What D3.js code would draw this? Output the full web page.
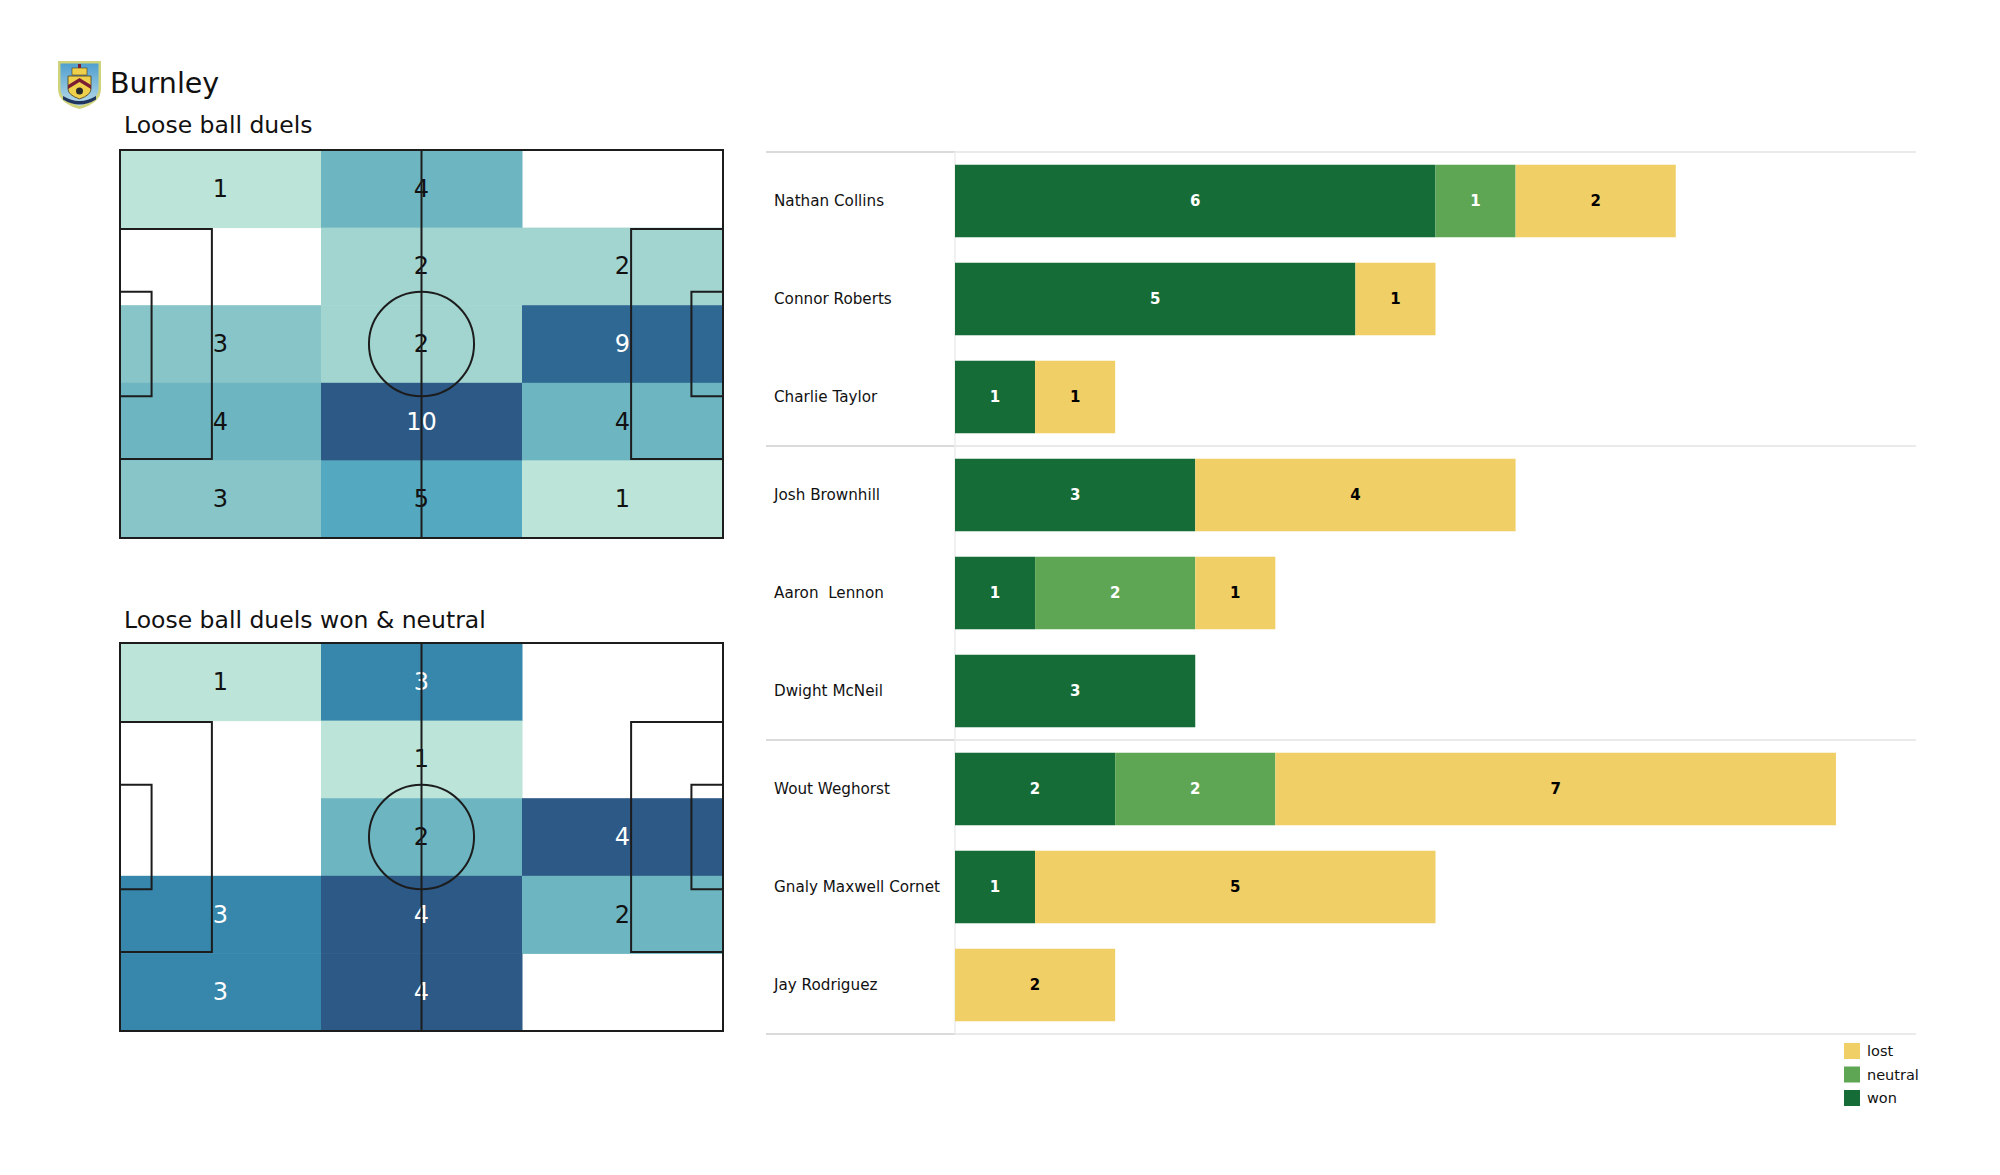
<!DOCTYPE html>
<html>
<head>
<meta charset="utf-8">
<script src="https://cdn.jsdelivr.net/npm/d3@7"></script>
<style>
  html, body { margin: 0; padding: 0; background: #ffffff; }
  svg { display: block; font-family: "DejaVu Sans", sans-serif; }
</style>
</head>
<body>
<svg id="chart" width="2000" height="1175"></svg>
<script>
// ---------------- DATA ----------------
const teamName = "Burnley";
const pitchTitles = ["Loose ball duels", "Loose ball duels won & neutral"];

// heatmap zones: 5 rows (top -> bottom) x 3 columns (left -> right); null = no duels
const duelsAll = [
  [1, 4, null],
  [null, 2, 2],
  [3, 2, 9],
  [4, 10, 4],
  [3, 5, 1]
];
const duelsWonNeutral = [
  [1, 3, null],
  [null, 1, null],
  [null, 2, 4],
  [3, 4, 2],
  [3, 4, null]
];

const players = ["Nathan Collins", "Connor Roberts", "Charlie Taylor",
                 "Josh Brownhill", "Aaron  Lennon", "Dwight McNeil",
                 "Wout Weghorst", "Gnaly Maxwell Cornet", "Jay Rodriguez"];
const wonValues     = [6, 5, 1, 3, 1, 3, 2, 1, 0];
const neutralValues = [1, 0, 0, 0, 2, 0, 2, 0, 0];
const lostValues    = [2, 1, 1, 4, 1, 0, 7, 5, 2];
const seriesKeys = ["won", "neutral", "lost"];
const legendOrder = ["lost", "neutral", "won"];

// ---------------- STYLE ----------------
const colors = { won: "#156c37", neutral: "#5fa654", lost: "#f0cf67" };
const labelColors = { won: "#ffffff", neutral: "#ffffff", lost: "#000000" };
const heatStopPos = [0, 1 / 3, 0.5, 2 / 3, 1];
const heatStops = ["#bce4d8", "#6db6c1", "#48a1be", "#3687ab", "#2c5985"];

const svg = d3.select("#chart");

// ---------------- HEADER ----------------
function drawLogo(g) {
  const defs = svg.append("defs");
  const grad = defs.append("linearGradient").attr("id", "sky").attr("x1", 0).attr("y1", 0).attr("x2", 0).attr("y2", 1);
  grad.append("stop").attr("offset", "0%").attr("stop-color", "#4f9fcf");
  grad.append("stop").attr("offset", "100%").attr("stop-color", "#b9dbe9");
  g.append("path")
    .attr("d", "M0,0 L43,0 L43,28 Q43,42 21.5,48 Q0,42 0,28 Z")
    .attr("fill", "#cfd37a");
  g.append("path")
    .attr("d", "M2.5,2.5 L40.5,2.5 L40.5,27.5 Q40.5,39.5 21.5,45 Q2.5,39.5 2.5,27.5 Z")
    .attr("fill", "url(#sky)");
  g.append("path")
    .attr("d", "M10,15 L33,15 L33,28 Q33,34 21.5,38 Q10,34 10,28 Z")
    .attr("fill", "#efd04a").attr("stroke", "#4a3a1a").attr("stroke-width", 0.8);
  g.append("path")
    .attr("d", "M10,24 L21.5,17 L33,24 L33,28 L21.5,21 L10,28 Z")
    .attr("fill", "#7a1f33");
  g.append("rect").attr("x", 14).attr("y", 7).attr("width", 15).attr("height", 7).attr("fill", "#efd04a")
    .attr("stroke", "#4a3a1a").attr("stroke-width", 0.6);
  g.append("rect").attr("x", 20).attr("y", 3).attr("width", 3).attr("height", 4).attr("fill", "#7a1f33");
  g.append("circle").attr("cx", 21.5).attr("cy", 30).attr("r", 3.5).attr("fill", "#2a2a2a");
  g.append("path")
    .attr("d", "M5,35 Q21.5,45 38,35 L38,38.5 Q21.5,48.5 5,38.5 Z")
    .attr("fill", "#1f3560");
}
drawLogo(svg.append("g").attr("transform", "translate(58,61)"));

svg.append("text").attr("x", 110).attr("y", 93)
  .attr("font-size", 28.5).attr("fill", "#111").text(teamName);

// ---------------- PITCHES ----------------
const pitchLen = 105, pitchWid = 68;
const pitchLeft = 120, pitchRight = 723;
const pitchTops = [150, 643], pitchHeight = 388;
const titleBaselines = [133, 628];

function drawPitch(top, grid, title, titleY) {
  const x = d3.scaleLinear().domain([0, pitchLen]).range([pitchLeft, pitchRight]);
  const y = d3.scaleLinear().domain([0, pitchWid]).range([top, top + pitchHeight]);
  const col = d3.scaleBand().domain(d3.range(grid[0].length)).range([pitchLeft, pitchRight]);
  const row = d3.scaleBand().domain(d3.range(grid.length)).range([top, top + pitchHeight]);

  svg.append("text").attr("x", 124).attr("y", titleY)
    .attr("font-size", 23.5).attr("fill", "#111").text(title);

  const cells = [];
  grid.forEach((r, i) => r.forEach((v, j) => { if (v !== null) cells.push({ i, j, v }); }));
  const vals = cells.map(d => d.v);
  const norm = d3.scaleLinear().domain([d3.min(vals), d3.max(vals)]).range([0, 1]);
  const color = d3.scaleLinear().domain(heatStopPos).range(heatStops).interpolate(d3.interpolateRgb);

  const g = svg.append("g");
  g.selectAll("rect.cell").data(cells).enter().append("rect")
    .attr("class", "cell")
    .attr("x", d => col(d.j)).attr("y", d => row(d.i))
    .attr("width", col.bandwidth() + 0.5).attr("height", row.bandwidth() + 0.5)
    .attr("fill", d => color(norm(d.v)));

  g.selectAll("text.val").data(cells).enter().append("text")
    .attr("class", "val")
    .attr("x", d => col(d.j) + col.bandwidth() / 2)
    .attr("y", d => row(d.i) + row.bandwidth() / 2)
    .attr("text-anchor", "middle").attr("dominant-baseline", "central")
    .attr("font-size", 24)
    .attr("fill", d => norm(d.v) > 0.6 ? "#ffffff" : "#111111")
    .text(d => d.v);

  // pitch markings
  const lines = svg.append("g").attr("fill", "none").attr("stroke", "#1c1c1c").attr("stroke-width", 2);
  lines.append("rect").attr("x", x(0)).attr("y", y(0))
    .attr("width", x(pitchLen) - x(0)).attr("height", y(pitchWid) - y(0));
  lines.append("line").attr("x1", x(pitchLen / 2)).attr("x2", x(pitchLen / 2))
    .attr("y1", y(0)).attr("y2", y(pitchWid));
  lines.append("ellipse").attr("cx", x(pitchLen / 2)).attr("cy", y(pitchWid / 2))
    .attr("rx", x(9.15) - x(0)).attr("ry", y(9.15) - y(0));
  const boxes = [[16, 40.32], [5.5, 18.32]];
  boxes.forEach(([depth, width]) => {
    const y0 = (pitchWid - width) / 2, y1 = (pitchWid + width) / 2;
    lines.append("path").attr("d",
      `M${x(0)},${y(y0)} L${x(depth)},${y(y0)} L${x(depth)},${y(y1)} L${x(0)},${y(y1)}`);
    lines.append("path").attr("d",
      `M${x(pitchLen)},${y(y0)} L${x(pitchLen - depth)},${y(y0)} L${x(pitchLen - depth)},${y(y1)} L${x(pitchLen)},${y(y1)}`);
  });
}
drawPitch(pitchTops[0], duelsAll, pitchTitles[0], titleBaselines[0]);
drawPitch(pitchTops[1], duelsWonNeutral, pitchTitles[1], titleBaselines[1]);

// ---------------- BAR CHART ----------------
const barLeft = 955, barRight = 1916, labelLeft = 766;
const barTop = 152, barBottom = 1034;
const xB = d3.scaleLinear().domain([0, 12]).range([barLeft, barRight]);
const yB = d3.scaleBand().domain(players).range([barTop, barBottom])
  .paddingInner(0.26).paddingOuter(0.13);

const rows = players.map((p, i) => ({ player: p, won: wonValues[i], neutral: neutralValues[i], lost: lostValues[i] }));
const stacked = d3.stack().keys(seriesKeys)(rows);

// group separator lines
const groupBounds = [0, 3, 6, 9].map(k => barTop + k * yB.step());
svg.append("g").selectAll("line").data(groupBounds).enter().append("line")
  .attr("x1", labelLeft).attr("x2", barLeft)
  .attr("y1", d => d).attr("y2", d => d)
  .attr("stroke", "#cfcfcf").attr("stroke-width", 1.5);
svg.append("g").selectAll("line").data(groupBounds).enter().append("line")
  .attr("x1", barLeft).attr("x2", barRight)
  .attr("y1", d => d).attr("y2", d => d)
  .attr("stroke", "#e3e3e3").attr("stroke-width", 1.5);
svg.append("line").attr("x1", barLeft).attr("x2", barLeft)
  .attr("y1", barTop).attr("y2", barBottom)
  .attr("stroke", "#ececec").attr("stroke-width", 1.5);

// player labels
svg.append("g").selectAll("text").data(players).enter().append("text")
  .attr("x", 774).attr("y", d => yB(d) + yB.bandwidth() / 2)
  .attr("dominant-baseline", "central")
  .attr("font-size", 15.2).attr("fill", "#111")
  .style("white-space", "pre")
  .text(d => d);

// bars
stacked.forEach(layer => {
  const key = layer.key;
  const g = svg.append("g");
  const segs = layer.filter(d => d[1] - d[0] > 0);
  g.selectAll("rect").data(segs).enter().append("rect")
    .attr("x", d => xB(d[0])).attr("y", d => yB(d.data.player))
    .attr("width", d => xB(d[1]) - xB(d[0])).attr("height", yB.bandwidth())
    .attr("fill", colors[key]);
  g.selectAll("text").data(segs).enter().append("text")
    .attr("x", d => (xB(d[0]) + xB(d[1])) / 2)
    .attr("y", d => yB(d.data.player) + yB.bandwidth() / 2)
    .attr("text-anchor", "middle").attr("dominant-baseline", "central")
    .attr("font-size", 15).attr("font-weight", "bold")
    .attr("fill", labelColors[key])
    .text(d => d[1] - d[0]);
});

// legend
const legend = svg.append("g").attr("transform", "translate(1844,1043)");
legendOrder.forEach((k, i) => {
  legend.append("rect").attr("x", 0).attr("y", i * 23.5).attr("width", 16).attr("height", 16)
    .attr("fill", colors[k]);
  legend.append("text").attr("x", 23).attr("y", i * 23.5 + 8)
    .attr("dominant-baseline", "central").attr("font-size", 14.5).attr("fill", "#111").text(k);
});
</script>
</body>
</html>
